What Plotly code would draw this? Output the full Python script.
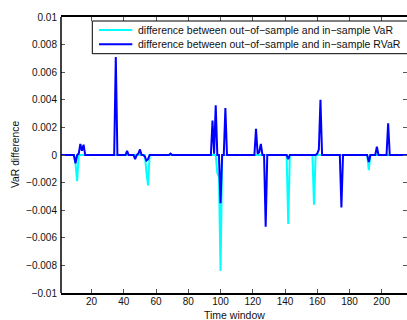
import plotly.graph_objects as go

# Time windows 1..216
n_windows = 216
time_window = list(range(1, n_windows + 1))

# Non-zero points of the out-of-sample minus in-sample VaR difference
var_idx = [10, 11, 54, 55, 98, 99, 100, 142, 158, 192]
var_val = [-0.0006, -0.0019, -0.0012, -0.0022, -0.0013, -0.0016, -0.0084,
           -0.0050, -0.0036, -0.0011]

# Non-zero points of the out-of-sample minus in-sample RVaR difference
rvar_idx = [10, 12, 13, 14, 15, 35, 42, 47, 49, 50, 53, 54, 55, 69,
            95, 96, 97, 100, 103, 122, 123, 124, 125, 128, 142,
            160, 161, 162, 175, 192, 197, 204]
rvar_val = [-0.0006, 0.0001, 0.0008, 0.0003, 0.00075, 0.0071, 0.0003,
            -0.0003, 0.0001, 0.0004, -0.0001, -0.0004, -0.0003, 0.0001,
            0.0025, 0.0001, 0.0036, -0.0035, 0.0034, 0.0019, 0.0001,
            0.0002, 0.0008, -0.0052, -0.0003,
            0.0001, 0.0004, 0.0040, -0.0038, -0.0005, 0.0006, 0.0023]

x_ticks = [20, 40, 60, 80, 100, 120, 140, 160, 180, 200]
y_ticks = [0.01, 0.008, 0.006, 0.004, 0.002, 0, -0.002, -0.004, -0.006, -0.008, -0.01]
y_tick_text = ["0.01", "0.008", "0.006", "0.004", "0.002", "0",
               "\u22120.002", "\u22120.004", "\u22120.006", "\u22120.008", "\u22120.01"]

legend_labels = [
    "difference between out\u2212of\u2212sample and in\u2212sample VaR",
    "difference between out\u2212of\u2212sample and in\u2212sample RVaR",
]
colors = ["#00FFFF", "#0000FF"]


def full_series(idx, val):
    s = [0.0] * n_windows
    for i, v in zip(idx, val):
        s[i - 1] = v
    return s


var_diff = full_series(var_idx, var_val)
rvar_diff = full_series(rvar_idx, rvar_val)

FONT = "Liberation Sans, Arial, Helvetica, sans-serif"

fig = go.Figure()
fig.add_trace(go.Scatter(x=time_window, y=var_diff, mode="lines", name=legend_labels[0],
                         line=dict(color=colors[0], width=2)))
fig.add_trace(go.Scatter(x=time_window, y=rvar_diff, mode="lines", name=legend_labels[1],
                         line=dict(color=colors[1], width=2)))

W, H = 407, 320
ml, mr, mt, mb = 61, 0, 17, 27
pw, ph = W - ml - mr, H - mt - mb


def px_x(p):
    return (p - ml) / pw


def px_y(p):
    return (H - mb - p) / ph


shapes = [
    # left axis line
    dict(type="line", xref="paper", yref="paper", x0=0, x1=0, y0=0, y1=1,
         line=dict(color="black", width=1.5), layer="above"),
    # legend frame
    dict(type="rect", xref="paper", yref="paper",
         x0=px_x(92.3), x1=1.08, y0=px_y(53.7), y1=px_y(21),
         line=dict(color="black", width=1), fillcolor="white", layer="above"),
]
annotations = []
for k, (lab, col) in enumerate(zip(legend_labels, colors)):
    yy = px_y(30 + 14.3 * k)
    shapes.append(dict(type="line", xref="paper", yref="paper",
                       x0=px_x(99), x1=px_x(132.3), y0=yy, y1=yy,
                       line=dict(color=col, width=2), layer="above"))
    annotations.append(dict(xref="paper", yref="paper", x=px_x(135.5), y=yy,
                            text=lab, showarrow=False, xanchor="left", yanchor="middle",
                            font=dict(family=FONT, size=10.5, color="#111")))

# axis titles
annotations.append(dict(xref="paper", yref="paper", x=px_x(234), y=px_y(314.5),
                        text="Time window", showarrow=False, xanchor="center",
                        yanchor="middle", font=dict(family=FONT, size=10.5, color="#111")))
annotations.append(dict(xref="paper", yref="paper", x=px_x(15), y=px_y(155),
                        text="VaR difference", showarrow=False, textangle=-90,
                        xanchor="center", yanchor="middle",
                        font=dict(family=FONT, size=10.3, color="#111")))

fig.update_layout(
    width=W, height=H,
    margin=dict(l=ml, r=mr, t=mt, b=mb, pad=0),
    paper_bgcolor="white", plot_bgcolor="white",
    showlegend=False,
    font=dict(family=FONT, size=10, color="#111"),
    shapes=shapes, annotations=annotations,
    xaxis=dict(range=[1, 215.7], tickvals=x_ticks, ticks="inside", ticklen=4,
               tickcolor="#555", tickwidth=1, showline=True, linecolor="black",
               linewidth=1.5, mirror="ticks", showgrid=False, zeroline=False,
               tickfont=dict(size=10), ticklabelstandoff=-2),
    yaxis=dict(range=[-0.01, 0.01], tickvals=y_ticks, ticktext=y_tick_text,
               ticks="inside", ticklen=4, tickcolor="#555", tickwidth=1,
               showline=False, mirror="ticks", showgrid=False, zeroline=False,
               tickfont=dict(size=10), ticklabelstandoff=3),
)

fig.write_html("out.html")
